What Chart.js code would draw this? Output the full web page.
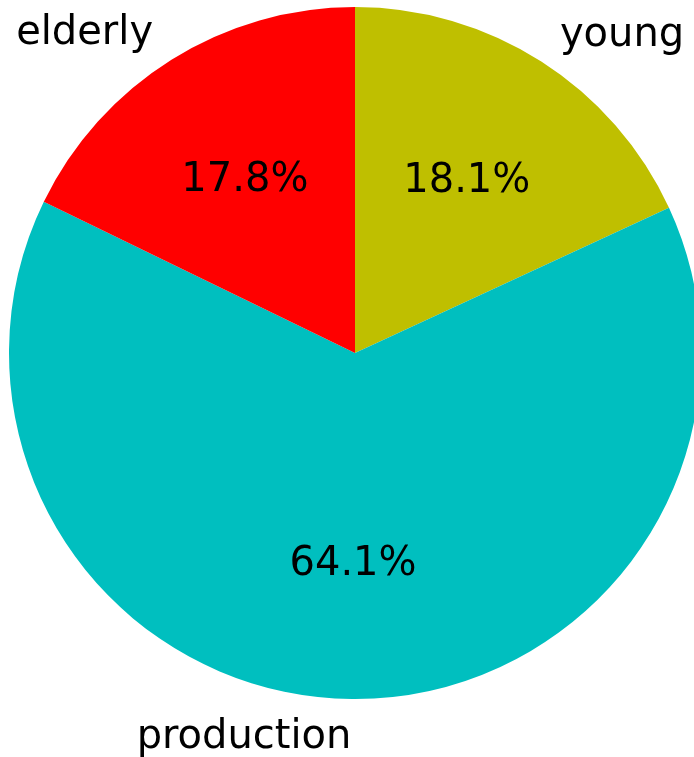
<!DOCTYPE html>
<html>
<head>
<meta charset="utf-8">
<script src="https://cdn.jsdelivr.net/npm/chart.js@4/dist/chart.umd.min.js"></script>
<style>
  html, body { margin: 0; padding: 0; background: #ffffff; overflow: hidden; }
  #wrap { position: relative; width: 720px; height: 757px; }
</style>
</head>
<body>
<div id="wrap"><canvas id="pie" width="720" height="757"></canvas></div>
<script>
// Population shares by age group
const categories = ['young', 'production', 'elderly'];
const shares = [18.1, 64.1, 17.8];
const sliceColors = ['#bfbf00', '#00bfbf', '#ff0000'];

const FONT_SIZE = 40;
const FONT = FONT_SIZE + 'px "DejaVu Sans", sans-serif';

// Draws the category names outside the pie and the percentages inside each slice.
// Each label is anchored so its baseline sits about a third of an em
// below the anchor point.
const sliceLabels = {
  id: 'sliceLabels',
  afterDatasetsDraw(chart) {
    const ctx = chart.ctx;
    const meta = chart.getDatasetMeta(0);
    const drop = FONT_SIZE * 0.35;
    ctx.save();
    ctx.font = FONT;
    ctx.fillStyle = '#000000';
    ctx.textBaseline = 'alphabetic';
    meta.data.forEach((arc, i) => {
      const mid = (arc.startAngle + arc.endAngle) / 2;
      const r = arc.outerRadius;
      const cx = arc.x, cy = arc.y;
      const dx = Math.cos(mid), dy = Math.sin(mid);
      // outer name
      const ox = cx + dx * r * 1.1;
      const oy = cy + dy * r * 1.1;
      ctx.textAlign = dx >= 0 ? 'left' : 'right';
      ctx.fillText(categories[i], ox, oy + drop);
      // inner percentage
      const ix = cx + dx * r * 0.6;
      const iy = cy + dy * r * 0.6;
      ctx.textAlign = 'center';
      ctx.fillText(shares[i].toFixed(1) + '%', ix, iy + drop);
    });
    ctx.restore();
  }
};

new Chart(document.getElementById('pie'), {
  type: 'pie',
  data: {
    labels: categories,
    datasets: [{
      data: shares,
      backgroundColor: sliceColors,
      borderWidth: 0,
      hoverOffset: 0
    }]
  },
  options: {
    responsive: false,
    animation: false,
    layout: { padding: { left: 9, right: 19, top: 7, bottom: 58 } },
    plugins: {
      legend: { display: false },
      tooltip: { enabled: false }
    }
  },
  plugins: [sliceLabels]
});
</script>
</body>
</html>
